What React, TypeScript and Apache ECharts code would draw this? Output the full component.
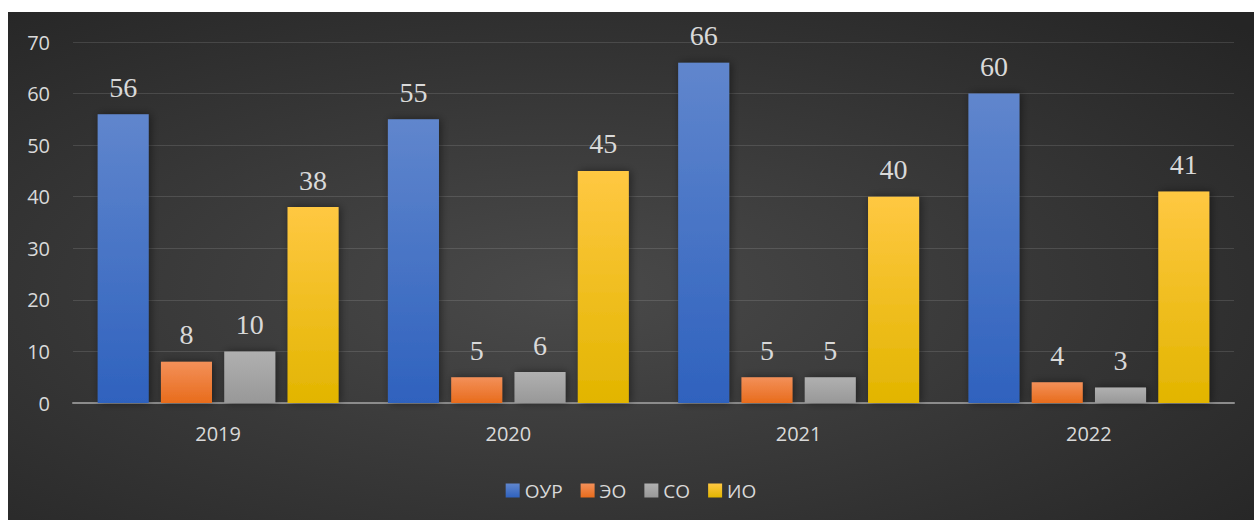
import React, { useEffect, useRef } from "react";
import * as echarts from "echarts";

const categories = ["2019", "2020", "2021", "2022"];
const seriesNames = ["ОУР", "ЭО", "СО", "ИО"];
const ourValues = [56, 55, 66, 60];
const eoValues = [8, 5, 5, 4];
const coValues = [10, 6, 5, 3];
const ioValues = [38, 45, 40, 41];
const yTicks = [0, 10, 20, 30, 40, 50, 60, 70];

const gradients = [
  ["#6086cd", "#2f62be"],
  ["#f39059", "#e86c1c"],
  ["#b0b0b0", "#989898"],
  ["#ffc842", "#e2b500"],
];

export default function App() {
  const ref = useRef<HTMLDivElement>(null);
  useEffect(() => {
    if (!ref.current) return;
    const chart = echarts.init(ref.current, undefined, { renderer: "svg" });
    const data = [ourValues, eoValues, coValues, ioValues];
    chart.setOption({
      animation: false,
      backgroundColor: {
        type: "radial",
        x: 0.45,
        y: 0.55,
        r: 0.75,
        colorStops: [
          { offset: 0, color: "#4a4a4a" },
          { offset: 1, color: "#252525" },
        ],
      },
      grid: { left: 65, right: 20, top: 30, bottom: 117, containLabel: false },
      legend: {
        data: seriesNames,
        top: 464,
        left: "center",
        itemWidth: 14,
        itemHeight: 14,
        itemGap: 18,
        icon: "rect",
        textStyle: { color: "#d9d9d9", fontSize: 19, fontFamily: "Open Sans" },
      },
      xAxis: {
        type: "category",
        data: categories,
        axisLine: { lineStyle: { color: "#8c8c8c", width: 2 } },
        axisTick: { show: false },
        axisLabel: { color: "#d9d9d9", fontSize: 20, fontFamily: "Open Sans", margin: 20 },
      },
      yAxis: {
        type: "value",
        min: yTicks[0],
        max: yTicks[yTicks.length - 1],
        interval: 10,
        axisLine: { show: false },
        axisTick: { show: false },
        axisLabel: { color: "#d9d9d9", fontSize: 20, fontFamily: "Open Sans", margin: 23 },
        splitLine: { lineStyle: { color: "rgba(255,255,255,0.12)", width: 1 } },
      },
      series: seriesNames.map((name, i) => ({
        name,
        type: "bar",
        data: data[i],
        barGap: "24%",
        barCategoryGap: "17%",
        itemStyle: {
          color: {
            type: "linear",
            x: 0,
            y: 0,
            x2: 0,
            y2: 1,
            colorStops: [
              { offset: 0, color: gradients[i][0] },
              { offset: 1, color: gradients[i][1] },
            ],
          },
          shadowBlur: 8,
          shadowColor: "rgba(0,0,0,0.45)",
          shadowOffsetX: 2,
        },
        label: {
          show: true,
          position: "top",
          distance: 13,
          color: "#d9d9d9",
          fontSize: 28,
          fontFamily: "Liberation Serif",
        },
      })),
    });
    return () => chart.dispose();
  }, []);
  return (
    <div
      ref={ref}
      style={{ position: "absolute", left: 8, top: 12, width: 1246, height: 508 }}
    />
  );
}
